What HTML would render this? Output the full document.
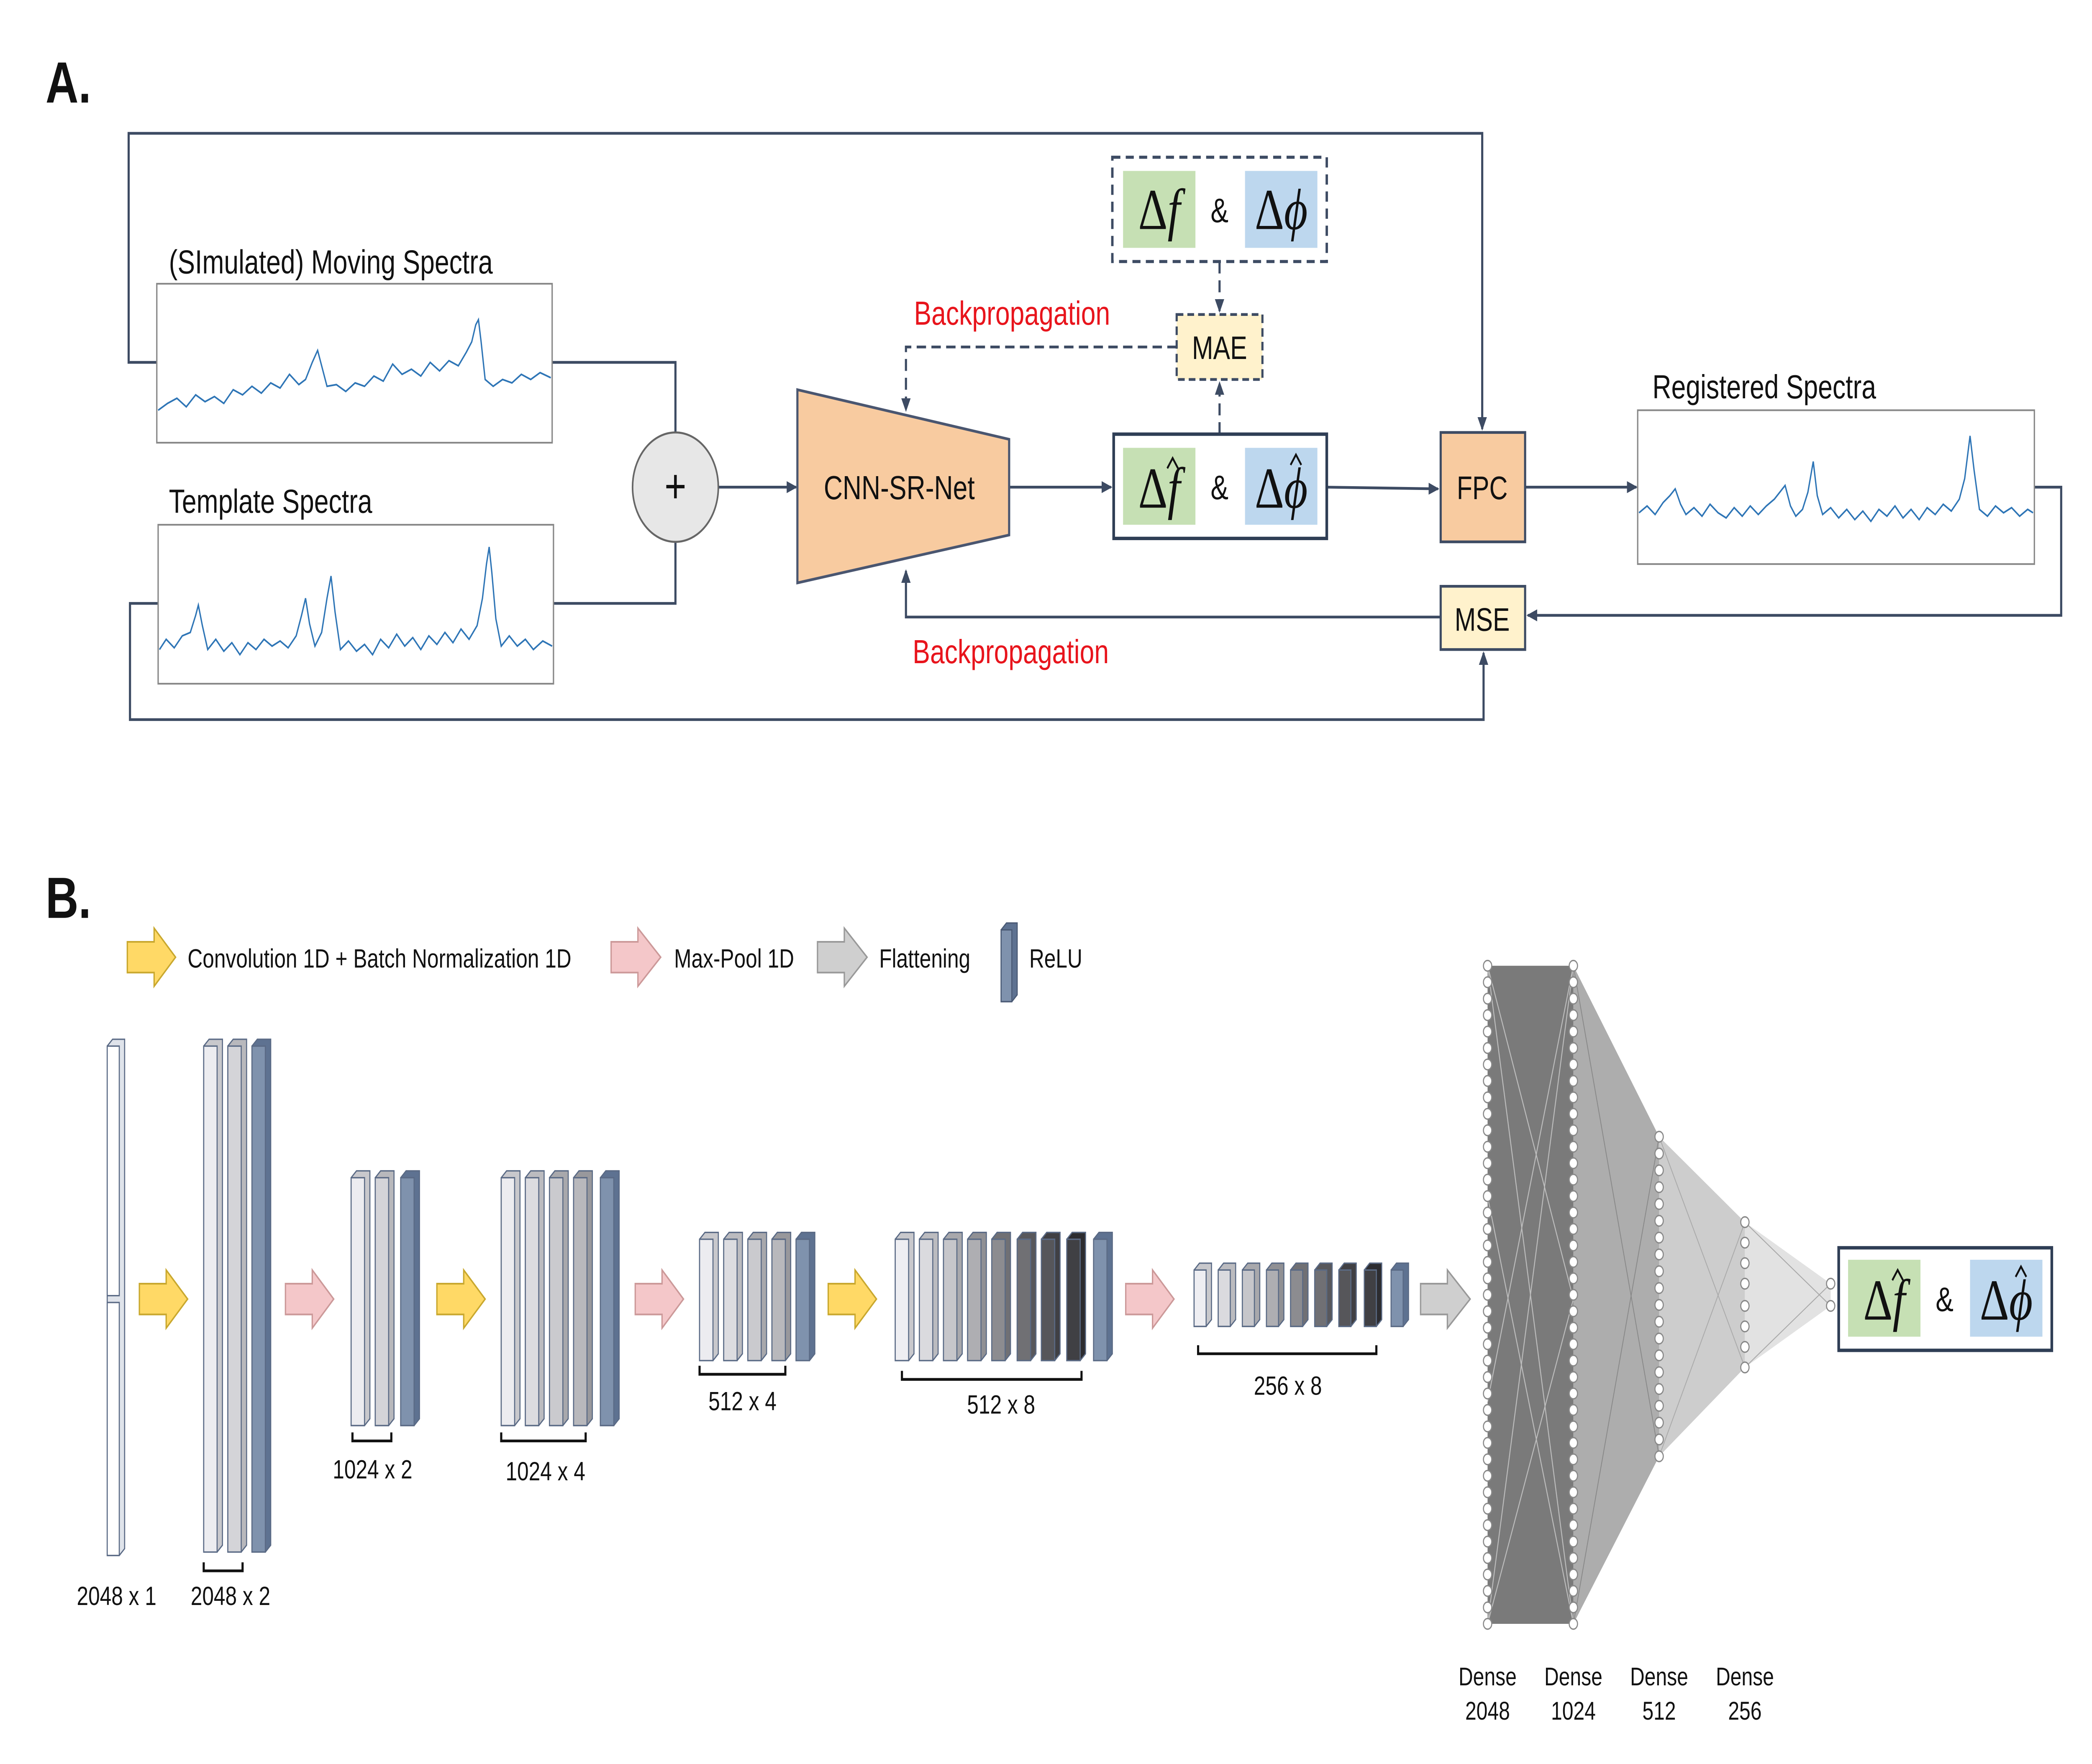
<!DOCTYPE html>
<html><head><meta charset="utf-8"><style>
html,body{margin:0;padding:0;background:#fff;overflow:hidden;width:100%;height:100%}
svg{display:block;width:100vw;height:100vh}
text{font-family:"Liberation Sans","DejaVu Sans",sans-serif;fill:#111}
.m{font-family:"Liberation Serif",serif;font-size:34px}
</style></head><body>
<svg viewBox="0 0 1561 1032" preserveAspectRatio="none" xmlns="http://www.w3.org/2000/svg">
<defs>
<marker id="ah" markerWidth="8" markerHeight="8" refX="7" refY="4" orient="auto" markerUnits="userSpaceOnUse"><path d="M0,0.5 L8,4 L0,7.5 Z" fill="#3d4b63"/></marker>
<pattern id="p1" x="1105" y="560.2" width="10" height="9.625" patternUnits="userSpaceOnUse"><circle cx="5" cy="4.81" r="3.1" fill="#fff" stroke="#888" stroke-width="0.8"/></pattern>
<pattern id="p2" x="1169" y="560.2" width="10" height="9.625" patternUnits="userSpaceOnUse"><circle cx="5" cy="4.81" r="3.1" fill="#fff" stroke="#888" stroke-width="0.8"/></pattern>
<pattern id="p3" x="1233" y="660.1" width="10" height="9.84" patternUnits="userSpaceOnUse"><circle cx="5" cy="4.92" r="3.1" fill="#fff" stroke="#888" stroke-width="0.8"/></pattern>
</defs>

<!-- PART A -->
<text x="34" y="60" font-size="34" font-weight="bold">A.</text>

<g fill="none" stroke="#3d4b63" stroke-width="1.6">
<polyline points="117,212 96,212 96,78 1106,78 1106,251" marker-end="url(#ah)"/>
<polyline points="118,353 97,353 97,421 1107,421 1107,382" marker-end="url(#ah)"/>
<polyline points="412,212 504,212 504,253"/>
<polyline points="413,353 504,353 504,317"/>
<line x1="536" y1="285" x2="594" y2="285" marker-end="url(#ah)"/>
<line x1="753" y1="285" x2="829" y2="285" marker-end="url(#ah)"/>
<line x1="990" y1="285" x2="1073" y2="286" marker-end="url(#ah)"/>
<line x1="1138" y1="285" x2="1221" y2="285" marker-end="url(#ah)"/>
<polyline points="1518,285 1538,285 1538,360 1140,360" marker-end="url(#ah)"/>
<polyline points="1075,361 676,361 676,334" marker-end="url(#ah)"/>
</g>
<g fill="none" stroke="#3d4b63" stroke-width="1.6" stroke-dasharray="7,4">
<line x1="910" y1="153" x2="910" y2="182" marker-end="url(#ah)"/>
<line x1="910" y1="254" x2="910" y2="224" marker-end="url(#ah)"/>
<polyline points="878,203 676,203 676,240" marker-end="url(#ah)"/>
</g>

<rect x="117" y="166" width="295" height="93" fill="#fff" stroke="#888" stroke-width="1"/>
<text x="126" y="160" font-size="19.5">(SImulated) Moving Spectra</text>
<rect x="118" y="307" width="295" height="93" fill="#fff" stroke="#888" stroke-width="1"/>
<text x="126" y="300" font-size="19.5">Template Spectra</text>
<rect x="1222" y="240" width="296" height="90" fill="#fff" stroke="#888" stroke-width="1"/>
<text x="1233" y="233" font-size="19.5">Registered Spectra</text>

<g fill="none" stroke="#2e75b6" stroke-width="1">
<polyline points="118,240 125,236 132,233 139,238 146,231 153,235 160,232 167,236 174,228 181,231 188,226 195,230 202,224 209,227 216,219 223,225 228,222 233,212 237,205 240,214 244,226 251,225 258,229 265,224 272,226 279,220 286,223 293,213 300,219 307,216 314,220 321,212 328,217 335,211 342,214 348,206 352,200 355,190 357,187 359,200 362,222 368,226 375,222 382,224 389,219 396,222 403,218 411,221"/>
<polyline points="119,380 124,374 130,379 136,372 142,370 146,360 148,354 151,366 155,380 161,374 167,381 173,376 179,383 185,376 191,380 197,374 203,378 209,375 215,379 221,372 225,360 228,350 231,365 235,378 240,370 244,350 247,337 250,358 254,380 260,375 266,381 272,377 278,383 284,374 290,379 296,371 302,378 308,373 314,380 320,372 326,377 332,370 338,376 344,368 350,374 356,366 360,350 363,330 365,320 367,335 370,362 374,378 380,372 386,378 392,374 398,380 405,375 412,378"/>
<polyline points="1223,300 1229,296 1235,301 1241,294 1246,290 1250,286 1254,295 1258,301 1264,297 1270,302 1276,295 1282,300 1288,303 1294,297 1300,302 1306,296 1312,301 1318,296 1324,292 1328,288 1332,284 1336,296 1340,302 1345,298 1349,288 1353,270 1356,290 1360,301 1366,297 1372,303 1378,298 1384,304 1390,299 1396,305 1402,298 1408,302 1414,296 1420,303 1426,298 1432,304 1438,297 1444,301 1450,295 1456,299 1462,292 1466,280 1470,255 1473,275 1477,298 1483,302 1489,296 1495,300 1501,297 1507,302 1513,298 1517,300"/>
</g>

<circle cx="504" cy="285" r="32" fill="#e7e7e7" stroke="#666" stroke-width="1.2"/>
<text x="504" y="294" font-size="28" text-anchor="middle">+</text>

<polygon points="595,228 753,257 753,313 595,341" fill="#f8cba0" stroke="#4a5670" stroke-width="1.6"/>
<text x="671" y="292" font-size="19.5" text-anchor="middle">CNN-SR-Net</text>

<rect x="831" y="254" width="159" height="61" fill="#fff" stroke="#2f3e55" stroke-width="2"/>
<rect x="838" y="262" width="54" height="45" fill="#c6e0b4"/>
<rect x="929" y="262" width="54" height="45" fill="#bdd7ee"/>
<text x="865" y="297" class="m" text-anchor="middle">Δ<tspan font-style="italic">f</tspan></text>
<path d="M871,274 L875,268 L879,274" fill="none" stroke="#111" stroke-width="1.3"/>
<text x="910" y="292" font-size="20" text-anchor="middle">&amp;</text>
<text x="956" y="297" class="m" text-anchor="middle">Δ<tspan font-style="italic">ϕ</tspan></text>
<path d="M963,272 L967,266 L971,272" fill="none" stroke="#111" stroke-width="1.3"/>

<rect x="830" y="92" width="160" height="61" fill="#fff" stroke="#3d4b63" stroke-width="1.8" stroke-dasharray="6,4"/>
<rect x="838" y="100" width="54" height="45" fill="#c6e0b4"/>
<rect x="929" y="100" width="54" height="45" fill="#bdd7ee"/>
<text x="865" y="134" class="m" text-anchor="middle">Δ<tspan font-style="italic">f</tspan></text>
<text x="910" y="130" font-size="20" text-anchor="middle">&amp;</text>
<text x="956" y="134" class="m" text-anchor="middle">Δ<tspan font-style="italic">ϕ</tspan></text>

<rect x="878" y="184" width="64" height="38" fill="#fff2cc" stroke="#3d4b63" stroke-width="1.6" stroke-dasharray="5,3"/>
<text x="910" y="210" font-size="19" text-anchor="middle">MAE</text>

<rect x="1075" y="253" width="63" height="64" fill="#f8cba0" stroke="#3d4b63" stroke-width="1.6"/>
<text x="1106" y="292" font-size="19" text-anchor="middle">FPC</text>
<rect x="1075" y="343" width="63" height="37" fill="#fff2cc" stroke="#3d4b63" stroke-width="1.6"/>
<text x="1106" y="369" font-size="19" text-anchor="middle">MSE</text>

<text x="682" y="190" font-size="19.5" style="fill:#e8141c">Backpropagation</text>
<text x="681" y="388" font-size="19.5" style="fill:#e8141c">Backpropagation</text>

<!-- PART B -->
<text x="34" y="537" font-size="34" font-weight="bold">B.</text>

<polygon points="95,551 115,551 115,543 131,560 115,577 115,569 95,569" fill="#ffd966" stroke="#c9a82e" stroke-width="1"/>
<text x="140" y="566" font-size="15.5">Convolution 1D + Batch Normalization 1D</text>
<polygon points="456,551 476,551 476,543 493,560 476,577 476,569 456,569" fill="#f4c7c9" stroke="#c99" stroke-width="1"/>
<text x="503" y="566" font-size="15.5">Max-Pool 1D</text>
<polygon points="610,551 630,551 630,543 647,560 630,577 630,569 610,569" fill="#cfcfcf" stroke="#999" stroke-width="1"/>
<text x="656" y="566" font-size="15.5">Flattening</text>
<polygon points="747,544 751,540 759,540 759,582 755,586 747,586" fill="#5e7291" stroke="#4a5a75" stroke-width="0.8"/>
<rect x="747" y="544" width="8" height="42" fill="#7f92ad" stroke="#4a5a75" stroke-width="0.8"/>
<text x="768" y="566" font-size="15.5">ReLU</text>

<polygon points="104,751 124,751 124,743 140,760 124,777 124,769 104,769" fill="#ffd966" stroke="#c9a82e"/>
<polygon points="213,751 233,751 233,743 249,760 233,777 233,769 213,769" fill="#f4c7c9" stroke="#c99"/>
<polygon points="326,751 346,751 346,743 362,760 346,777 346,769 326,769" fill="#ffd966" stroke="#c9a82e"/>
<polygon points="474,751 494,751 494,743 510,760 494,777 494,769 474,769" fill="#f4c7c9" stroke="#c99"/>
<polygon points="618,751 638,751 638,743 654,760 638,777 638,769 618,769" fill="#ffd966" stroke="#c9a82e"/>
<polygon points="840,751 860,751 860,743 876,760 860,777 860,769 840,769" fill="#f4c7c9" stroke="#c99"/>
<polygon points="1060,751 1080,751 1080,743 1097,760 1080,777 1080,769 1060,769" fill="#cfcfcf" stroke="#999"/>

<g stroke="#5a6a85" stroke-width="0.8">
<polygon points="80,612 84,608 93,608 93,906 89,910 80,910" fill="#dfe3ea"/>
<rect x="80" y="612" width="9" height="146" fill="#fff"/>
<rect x="80" y="762" width="9" height="148" fill="#fff"/>
<polygon points="152,612 156,608 166,608 166,904 162,908 152,908" fill="#c8c8cc"/>
<rect x="152" y="612" width="10" height="296" fill="#ececf0"/>
<polygon points="170,612 174,608 184,608 184,904 180,908 170,908" fill="#b8b8bc"/>
<rect x="170" y="612" width="10" height="296" fill="#d4d4d8"/>
<polygon points="188,612 192,608 202,608 202,904 198,908 188,908" fill="#5e7291"/>
<rect x="188" y="612" width="10" height="296" fill="#7f92ad"/>
<polygon points="262,689 266,685 276,685 276,830 272,834 262,834" fill="#c8c8cc"/>
<rect x="262" y="689" width="10" height="145" fill="#ececf0"/>
<polygon points="280,689 284,685 294,685 294,830 290,834 280,834" fill="#b8b8bc"/>
<rect x="280" y="689" width="10" height="145" fill="#d4d4d8"/>
<polygon points="299,689 303,685 313,685 313,830 309,834 299,834" fill="#5e7291"/>
<rect x="299" y="689" width="10" height="145" fill="#7f92ad"/>
<polygon points="374,689 378,685 388,685 388,830 384,834 374,834" fill="#c8c8cc"/>
<rect x="374" y="689" width="10" height="145" fill="#ececf0"/>
<polygon points="392,689 396,685 406,685 406,830 402,834 392,834" fill="#bbbbbf"/>
<rect x="392" y="689" width="10" height="145" fill="#dcdce0"/>
<polygon points="410,689 414,685 424,685 424,830 420,834 410,834" fill="#a8a8ac"/>
<rect x="410" y="689" width="10" height="145" fill="#cacace"/>
<polygon points="428,689 432,685 442,685 442,830 438,834 428,834" fill="#98989c"/>
<rect x="428" y="689" width="10" height="145" fill="#b8b8bc"/>
<polygon points="448,689 452,685 462,685 462,830 458,834 448,834" fill="#5e7291"/>
<rect x="448" y="689" width="10" height="145" fill="#7f92ad"/>
<polygon points="522,725 526,721 536,721 536,792 532,796 522,796" fill="#c8c8cc"/>
<rect x="522" y="725" width="10" height="71" fill="#ececf0"/>
<polygon points="540,725 544,721 554,721 554,792 550,796 540,796" fill="#bbbbbf"/>
<rect x="540" y="725" width="10" height="71" fill="#dcdce0"/>
<polygon points="558,725 562,721 572,721 572,792 568,796 558,796" fill="#a8a8ac"/>
<rect x="558" y="725" width="10" height="71" fill="#cacace"/>
<polygon points="576,725 580,721 590,721 590,792 586,796 576,796" fill="#98989c"/>
<rect x="576" y="725" width="10" height="71" fill="#b8b8bc"/>
<polygon points="594,725 598,721 608,721 608,792 604,796 594,796" fill="#5e7291"/>
<rect x="594" y="725" width="10" height="71" fill="#7f92ad"/>
<polygon points="668,725 672,721 682,721 682,792 678,796 668,796" fill="#c8c8cc"/>
<rect x="668" y="725" width="10" height="71" fill="#eeeef2"/>
<polygon points="686,725 690,721 700,721 700,792 696,796 686,796" fill="#bbbbbf"/>
<rect x="686" y="725" width="10" height="71" fill="#dadade"/>
<polygon points="704,725 708,721 718,721 718,792 714,796 704,796" fill="#a8a8ac"/>
<rect x="704" y="725" width="10" height="71" fill="#c6c6ca"/>
<polygon points="722,725 726,721 736,721 736,792 732,796 722,796" fill="#909094"/>
<rect x="722" y="725" width="10" height="71" fill="#aeaeb2"/>
<polygon points="740,725 744,721 754,721 754,792 750,796 740,796" fill="#707074"/>
<rect x="740" y="725" width="10" height="71" fill="#8c8c90"/>
<polygon points="759,725 763,721 773,721 773,792 769,796 759,796" fill="#58585c"/>
<rect x="759" y="725" width="10" height="71" fill="#707074"/>
<polygon points="777,725 781,721 791,721 791,792 787,796 777,796" fill="#404044"/>
<rect x="777" y="725" width="10" height="71" fill="#56565a"/>
<polygon points="796,725 800,721 810,721 810,792 806,796 796,796" fill="#2c2c30"/>
<rect x="796" y="725" width="10" height="71" fill="#404044"/>
<polygon points="816,725 820,721 830,721 830,792 826,796 816,796" fill="#5e7291"/>
<rect x="816" y="725" width="10" height="71" fill="#7f92ad"/>
<polygon points="891,743 895,739 904,739 904,772 900,776 891,776" fill="#c8c8cc"/>
<rect x="891" y="743" width="9" height="33" fill="#eeeef2"/>
<polygon points="909,743 913,739 922,739 922,772 918,776 909,776" fill="#bbbbbf"/>
<rect x="909" y="743" width="9" height="33" fill="#dadade"/>
<polygon points="927,743 931,739 940,739 940,772 936,776 927,776" fill="#a8a8ac"/>
<rect x="927" y="743" width="9" height="33" fill="#c6c6ca"/>
<polygon points="945,743 949,739 958,739 958,772 954,776 945,776" fill="#909094"/>
<rect x="945" y="743" width="9" height="33" fill="#aeaeb2"/>
<polygon points="963,743 967,739 976,739 976,772 972,776 963,776" fill="#707074"/>
<rect x="963" y="743" width="9" height="33" fill="#8c8c90"/>
<polygon points="981,743 985,739 994,739 994,772 990,776 981,776" fill="#58585c"/>
<rect x="981" y="743" width="9" height="33" fill="#707074"/>
<polygon points="999,743 1003,739 1012,739 1012,772 1008,776 999,776" fill="#404044"/>
<rect x="999" y="743" width="9" height="33" fill="#56565a"/>
<polygon points="1018,743 1022,739 1031,739 1031,772 1027,776 1018,776" fill="#2c2c30"/>
<rect x="1018" y="743" width="9" height="33" fill="#404044"/>
<polygon points="1038,743 1042,739 1051,739 1051,772 1047,776 1038,776" fill="#5e7291"/>
<rect x="1038" y="743" width="9" height="33" fill="#7f92ad"/>
</g>

<g fill="none" stroke="#111" stroke-width="1.6">
<polyline points="152,914 152,919 181,919 181,914"/>
<polyline points="263,838 263,843 292,843 292,838"/>
<polyline points="374,838 374,843 437,843 437,838"/>
<polyline points="522,799 522,804 586,804 586,799"/>
<polyline points="673,802 673,807 807,807 807,802"/>
<polyline points="894,787 894,792 1027,792 1027,787"/>
</g>
<g font-size="15.5" text-anchor="middle">
<text x="87" y="939">2048 x 1</text>
<text x="172" y="939">2048 x 2</text>
<text x="278" y="865">1024 x 2</text>
<text x="407" y="866">1024 x 4</text>
<text x="554" y="825">512 x 4</text>
<text x="747" y="827">512 x 8</text>
<text x="961" y="816">256 x 8</text>
</g>

<rect x="1110" y="565" width="64" height="385" fill="#7a7a7a"/>
<g stroke="#fff" stroke-width="0.7" opacity="0.5">
<line x1="1110" y1="565" x2="1174" y2="950"/><line x1="1110" y1="950" x2="1174" y2="565"/>
<line x1="1110" y1="700" x2="1174" y2="950"/><line x1="1110" y1="820" x2="1174" y2="565"/>
<line x1="1110" y1="565" x2="1174" y2="760"/><line x1="1110" y1="950" x2="1174" y2="760"/>
</g>
<polygon points="1174,565 1238,665 1238,852 1174,950" fill="#adadad"/>
<g stroke="#888" stroke-width="0.6">
<line x1="1174" y1="565" x2="1238" y2="852"/><line x1="1174" y1="950" x2="1238" y2="665"/>
</g>
<polygon points="1238,665 1302,715 1302,800 1238,852" fill="#cdcdcd"/>
<polygon points="1302,715 1366,751 1366,764 1302,800" fill="#e2e2e2"/>
<g stroke="#aaa" stroke-width="0.6">
<line x1="1302" y1="715" x2="1366" y2="764"/><line x1="1302" y1="800" x2="1366" y2="751"/>
<line x1="1238" y1="665" x2="1302" y2="800"/><line x1="1238" y1="852" x2="1302" y2="715"/>
</g>
<rect x="1105" y="560.2" width="10" height="394.6" fill="url(#p1)"/>
<rect x="1169" y="560.2" width="10" height="394.6" fill="url(#p2)"/>
<rect x="1233" y="660.1" width="10" height="196.8" fill="url(#p3)"/>
<g fill="#fff" stroke="#888" stroke-width="0.8">
<circle cx="1302" cy="715" r="3.1"/><circle cx="1302" cy="727" r="3.1"/><circle cx="1302" cy="739" r="3.1"/><circle cx="1302" cy="751" r="3.1"/><circle cx="1302" cy="764" r="3.1"/><circle cx="1302" cy="776" r="3.1"/><circle cx="1302" cy="788" r="3.1"/><circle cx="1302" cy="800" r="3.1"/>
<circle cx="1366" cy="751" r="3.1"/><circle cx="1366" cy="764" r="3.1"/>
</g>
<g font-size="15" text-anchor="middle">
<text x="1110" y="986">Dense</text><text x="1110" y="1006">2048</text>
<text x="1174" y="986">Dense</text><text x="1174" y="1006">1024</text>
<text x="1238" y="986">Dense</text><text x="1238" y="1006">512</text>
<text x="1302" y="986">Dense</text><text x="1302" y="1006">256</text>
</g>

<rect x="1372" y="730" width="159" height="60" fill="#fff" stroke="#2f3e55" stroke-width="2"/>
<rect x="1379" y="737" width="54" height="45" fill="#c6e0b4"/>
<rect x="1470" y="737" width="54" height="45" fill="#bdd7ee"/>
<text x="1406" y="772" class="m" text-anchor="middle">Δ<tspan font-style="italic">f</tspan></text>
<path d="M1412,749 L1416,743 L1420,749" fill="none" stroke="#111" stroke-width="1.3"/>
<text x="1451" y="767" font-size="20" text-anchor="middle">&amp;</text>
<text x="1497" y="772" class="m" text-anchor="middle">Δ<tspan font-style="italic">ϕ</tspan></text>
<path d="M1504,747 L1508,741 L1512,747" fill="none" stroke="#111" stroke-width="1.3"/>
</svg>
</body></html>
